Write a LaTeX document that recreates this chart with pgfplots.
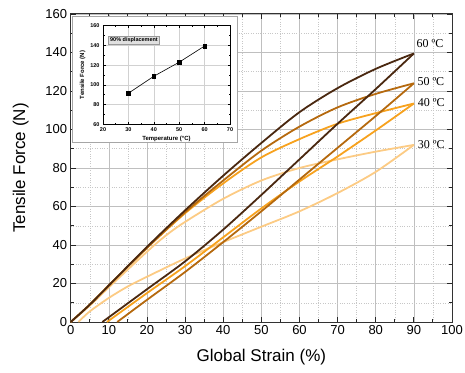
\documentclass[border=0pt]{standalone}
\usepackage{fontspec}
\setmainfont{Liberation Sans}
\newfontfamily\timesfont{Liberation Serif}
\usepackage{pgfplots}
\pgfplotsset{compat=1.18}
\definecolor{c60}{HTML}{4A2810}
\definecolor{c50}{HTML}{B5690E}
\definecolor{c40}{HTML}{F7A21E}
\definecolor{c30}{HTML}{FCCB84}
\begin{document}
\begin{tikzpicture}[x=1pt,y=1pt]
\useasboundingbox (0,0) rectangle (465,372);
\begin{axis}[
  at={(70.7pt,50pt)}, anchor=south west, scale only axis,
  width=381.3pt, height=308pt,
  xmin=0, xmax=100, ymin=0, ymax=160,
  xtick={0,10,...,100}, ytick={0,20,...,160},
  minor x tick num=1, minor y tick num=1,
  grid=both,
  major grid style={black!25, line width=0.6pt},
  minor grid style={black!22, dotted, line width=0.5pt},
  tick align=inside, major tick length=5pt, minor tick length=3pt,
  tick style={black!85, line width=0.9pt},
  axis line style={line width=1pt, black!80},
  tick label style={font=\fontsize{13}{13}\selectfont},
  /pgf/number format/assume math mode=true,
  xlabel={Global Strain (\%)}, ylabel={Tensile Force (N)},
  label style={font=\fontsize{17}{17}\selectfont},
  xlabel style={at={(axis description cs:0.5,-0.1136)}, anchor=center},
  ylabel style={at={(axis description cs:-0.131,0.5)}, anchor=center},
  clip=false,
  every axis plot/.append style={line width=1.8pt, smooth, no marks},
]
% 30 C
\addplot[c30] coordinates {(0,0)(5,8.5)(10,18)(20,36.5)(25,45)(30,52)(40,64)(50,73.5)(60,80)(70,84.5)(80,88.5)(90,92)};
\addplot[c30] coordinates {(2,0)(5,5.5)(10,12.5)(15,18.5)(20,23.5)(30,33)(40,41.5)(50,49.5)(60,57.5)(70,67)(80,78)(90,92)};
% 40 C
\addplot[c40] coordinates {(0,0)(5,9)(10,19)(20,38.5)(30,56.5)(40,72)(50,85.5)(60,95)(70,103)(80,108.5)(90,113.5)};
\addplot[c40] coordinates {(9.5,0)(20,15)(30,29)(40,44)(50,59)(60,73)(70,86)(80,99.5)(90,113.5)};
% 50 C
\addplot[c50] coordinates {(0,0)(5,9)(10,19)(20,38.5)(30,57)(40,73.5)(50,89)(60,101.5)(70,111.5)(80,118.5)(90,124)};
\addplot[c50] coordinates {(12.2,0)(20,11.5)(30,26)(40,41.5)(50,57.5)(60,74)(70,90.5)(80,107)(90,124)};
% 60 C
\addplot[c60] coordinates {(0,0)(5,9)(10,19)(20,39)(30,58)(40,76)(50,93)(60,109)(70,121.5)(80,131.5)(90,139.5)};
\addplot[c60] coordinates {(8.3,0)(20,17)(30,31.5)(40,48)(50,66)(60,84.5)(70,103)(80,121)(90,139.5)};
\node[anchor=west, font=\timesfont\fontsize{12}{12}\selectfont, inner sep=0pt] at (axis cs:90.7,144.5) {60 ºC};
\node[anchor=west, font=\timesfont\fontsize{12}{12}\selectfont, inner sep=0pt] at (axis cs:90.9,124.7) {50 ºC};
\node[anchor=west, font=\timesfont\fontsize{12}{12}\selectfont, inner sep=0pt] at (axis cs:91,114) {40 ºC};
\node[anchor=west, font=\timesfont\fontsize{12}{12}\selectfont, inner sep=0pt] at (axis cs:91,92.2) {30 ºC};
\end{axis}
\fill[white] (72,230) rectangle (237,356);
\draw[black!35, line width=0.6pt] (72,230) rectangle (237,356);
\begin{axis}[
  at={(103pt,247.7pt)}, anchor=south west, scale only axis,
  width=127pt, height=98.6pt,
  xmin=20, xmax=70, ymin=60, ymax=160,
  xtick={20,30,...,70}, ytick={60,80,...,160},
  minor x tick num=1, minor y tick num=1,
  grid=major, major grid style={black!18, line width=0.4pt},
  tick align=inside, major tick length=2.5pt, minor tick length=1.5pt,
  tick style={black, line width=0.5pt},
  axis line style={line width=0.6pt, black},
  tick label style={font=\bfseries\fontsize{5.5}{5.5}\selectfont},
  /pgf/number format/assume math mode=true,
  xlabel={Temperature (°C)}, ylabel={Tensile Force (N)},
  label style={font=\bfseries\fontsize{6}{6}\selectfont},
  xlabel style={at={(axis description cs:0.5,-0.145)}, anchor=center},
  ylabel style={at={(axis description cs:-0.16,0.5)}, anchor=center},
]
\addplot[black, line width=0.6pt, mark=square*, mark size=1.8pt] coordinates {(30,91.5)(40,108.7)(50,123)(60,139.4)};
\node[anchor=west, draw=black!40, fill=black!12, inner sep=1.6pt, font=\bfseries\fontsize{5.5}{5.5}\selectfont] at (axis cs:22.1,145.5) {90\% displacement};
\end{axis}
\end{tikzpicture}
\end{document}
